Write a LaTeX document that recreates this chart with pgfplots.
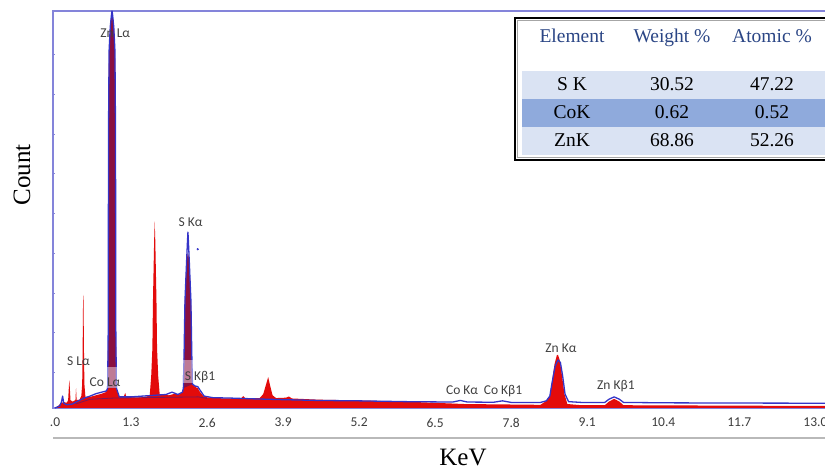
\documentclass[border=0pt]{standalone}
\usepackage{pgfplots}
\pgfplotsset{compat=1.18}
\usepackage{fontspec}
\setmainfont{Liberation Serif}
\newfontfamily\lblfont{Carlito}
\definecolor{specred}{HTML}{E30B0B}
\definecolor{specblue}{HTML}{3434C8}
\definecolor{frameblue}{HTML}{8484DA}
\definecolor{maroon}{HTML}{8A1040}
\definecolor{hdrblue}{HTML}{2A4585}
\definecolor{rowlight}{HTML}{DAE3F3}
\definecolor{rowmid}{HTML}{8FAADC}
\definecolor{tickgray}{HTML}{3C3C3C}
\definecolor{lblgray}{HTML}{404040}
\begin{document}
\begin{tikzpicture}[x=1pt,y=1pt]
\begin{axis}[
  at={(53pt,62pt)}, anchor=south west,
  width=777pt, height=397pt, scale only axis,
  xmin=-0.034, xmax=13.25, ymin=0, ymax=100,
  axis line style={draw=frameblue, line width=1.5pt},
  xtick={0,1.3,2.6,3.9,5.2,6.5,7.8,9.1,10.4,11.7,13},
  xticklabels={.0,1.3,2.6,3.9,5.2,6.5,7.8,9.1,10.4,11.7,13.0},
  ytick={9,19,29,39,49,59,69,79,89},
  yticklabels={},
  xtick style={draw=none},
  ytick style={draw=frameblue, line width=0.6pt},
  major tick length=2pt,
  xticklabel style={font=\lblfont\fontsize{13.5}{14}\selectfont, text=tickgray, anchor=north, inner sep=0pt, yshift=-10pt},
  clip=false,
]
% red spectrum
\addplot[fill=specred, draw=none] table {
0.00 0
0.06 0.6
0.10 1.2
0.15 1.5
0.20 1.3
0.225 2
0.24 6
0.245 7
0.25 6
0.265 2
0.30 1.6
0.35 2
0.36 5
0.37 2
0.42 2.1
0.45 3
0.465 6
0.473 15
0.48 27
0.484 28.5
0.488 27
0.495 15
0.503 6
0.52 2.8
0.60 2.8
0.70 3.2
0.80 3.6
0.87 4.0
0.90 5
0.91 20
0.915 70
0.925 90
0.945 96
0.965 99
0.975 99.5
0.985 99
1.005 96
1.025 90
1.035 70
1.04 20
1.05 5
1.10 2.8
1.18 3.0
1.20 3.8
1.22 2.8
1.40 2.6
1.55 2.8
1.62 3.2
1.645 8
1.665 15
1.675 27
1.695 42
1.705 47
1.715 42
1.735 27
1.745 15
1.765 8
1.79 3.5
1.95 3.2
2.05 3.6
2.12 3.4
2.18 4
2.195 5
2.205 12
2.222 27
2.25 37
2.273 39
2.296 37
2.324 27
2.341 12
2.35 6
2.40 5.3
2.44 5.0
2.48 4.0
2.55 2.8
2.70 2.5
3.00 2.4
3.18 2.4
3.22 3.0
3.26 2.4
3.50 2.5
3.56 3.5
3.60 5.5
3.645 7.8
3.68 5.5
3.72 3.2
3.78 2.5
3.95 2.6
4.00 2.9
4.05 2.4
4.50 2.1
5.20 1.9
6.00 1.6
7.00 1.0
8.30 0.8
8.40 1.8
8.46 3
8.50 7
8.54 11
8.58 13.3
8.60 13.4
8.63 12
8.67 8
8.71 3.5
8.76 1.0
9.00 0.7
9.40 0.7
9.47 1.6
9.56 2.3
9.65 1.6
9.72 0.7
13.25 0.5
} \closedcycle;
% overlap (red under blue)
\addplot[fill=maroon, draw=none] table {
0.90 5
0.91 20
0.915 70
0.925 90
0.945 96
0.965 99
0.975 99.5
0.985 99
1.005 96
1.025 90
1.035 70
1.04 20
1.05 5
} -- cycle;
\addplot[fill=maroon, draw=none] table {
2.195 5
2.205 12
2.222 27
2.25 37
2.273 39
2.296 37
2.324 27
2.341 12
2.35 6
} -- cycle;
% background fit line
\addplot[draw=maroon!80!specblue, line width=0.8pt] table {
0.35 1.0
0.60 2.2
1.00 2.5
2.45 2.8
2.60 2.4
};
% blue spectrum
\addplot[draw=specblue, line width=1.3pt, line join=round] table {
0.00 0
0.08 0.5
0.11 1.5
0.13 3.0
0.15 1.2
0.20 0.8
0.30 1.0
0.40 1.8
0.50 2.5
0.60 3.0
0.70 3.6
0.80 4.0
0.88 4.3
0.90 5
0.91 20
0.915 70
0.925 90
0.945 96
0.965 99
0.975 100
0.985 99
1.005 96
1.025 90
1.035 70
1.04 20
1.05 5
1.10 2.8
1.30 2.8
1.50 3.0
1.70 3.2
1.90 3.4
2.00 4.0
2.10 3.4
2.18 4
2.195 5
2.205 12
2.222 27
2.25 37
2.265 42
2.273 44.3
2.281 42
2.296 37
2.324 27
2.341 12
2.35 6
2.40 5.5
2.44 5.4
2.48 4.5
2.55 3.0
2.70 2.6
3.00 2.5
3.40 2.3
3.90 2.1
4.50 1.9
5.20 1.8
6.00 1.6
6.80 1.5
6.93 1.9
7.05 1.5
7.50 1.45
7.65 1.8
7.80 1.4
8.30 1.4
8.40 1.8
8.46 3
8.50 6.5
8.55 10.5
8.60 12.1
8.64 11.5
8.68 8
8.72 3.5
8.78 1.6
9.00 1.4
9.40 1.4
9.47 2.2
9.56 2.8
9.65 2.2
9.72 1.4
10.5 1.3
11.5 1.25
13.25 1.2
};
\addplot[only marks, mark=*, mark size=0.9pt, specblue] coordinates {(2.44,40)};
% highlight boxes
\fill[white, opacity=0.45] (axis cs:0.89,5.0) rectangle (axis cs:1.06,10.3);
\fill[white, opacity=0.45] (axis cs:2.19,6.3) rectangle (axis cs:2.38,12.1);
% peak labels
\begin{scope}[every node/.style={font=\lblfont\fontsize{13.5}{14}\selectfont, text=lblgray, anchor=base, inner sep=0pt}]
\node at (axis cs:1.03,93.4) {Zn Lα};
\node at (axis cs:2.32,45.6) {S Kα};
\node at (axis cs:0.40,10.8) {S Lα};
\node at (axis cs:0.855,5.3) {Co Lα};
\node at (axis cs:2.48,6.8) {S Kβ1};
\node at (axis cs:6.96,3.4) {Co Kα};
\node at (axis cs:7.66,3.4) {Co Kβ1};
\node at (axis cs:8.65,14.1) {Zn Kα};
\node at (axis cs:9.59,4.6) {Zn Kβ1};
\end{scope}
\end{axis}
% gray rule under tick labels
\draw[gray!55, line width=1.6pt] (53,32) -- (825,32);
% axis labels
\node[font=\fontsize{25}{25}\selectfont, rotate=90, anchor=base, inner sep=0pt] at (30,295) {Count};
\node[font=\fontsize{25}{25}\selectfont, anchor=base, inner sep=0pt] at (463,4) {KeV};
% table
\fill[white] (515,452) rectangle (835,310);
\fill[rowlight] (522,399) rectangle (835,371);
\fill[rowmid] (522,371) rectangle (835,343);
\fill[rowlight] (522,343) rectangle (835,315);
\draw[gray!70, line width=1pt] (517.5,449.5) rectangle (840,312.5);
\draw[black, line width=1.4pt] (515,452) rectangle (840,310);
\begin{scope}[every node/.style={font=\fontsize{19.5}{20}\selectfont, inner sep=0pt, anchor=base}]
\node[text=hdrblue] at (572,427) {Element};
\node[text=hdrblue] at (672,427) {Weight \%};
\node[text=hdrblue] at (772,427) {Atomic \%};
\node at (572,379) {S K};
\node at (672,379) {30.52};
\node at (772,379) {47.22};
\node at (572,351) {CoK};
\node at (672,351) {0.62};
\node at (772,351) {0.52};
\node at (572,323) {ZnK};
\node at (672,323) {68.86};
\node at (772,323) {52.26};
\end{scope}
\pgfresetboundingbox
\path[use as bounding box] (0,0) rectangle (825,470);
\end{tikzpicture}
\end{document}
